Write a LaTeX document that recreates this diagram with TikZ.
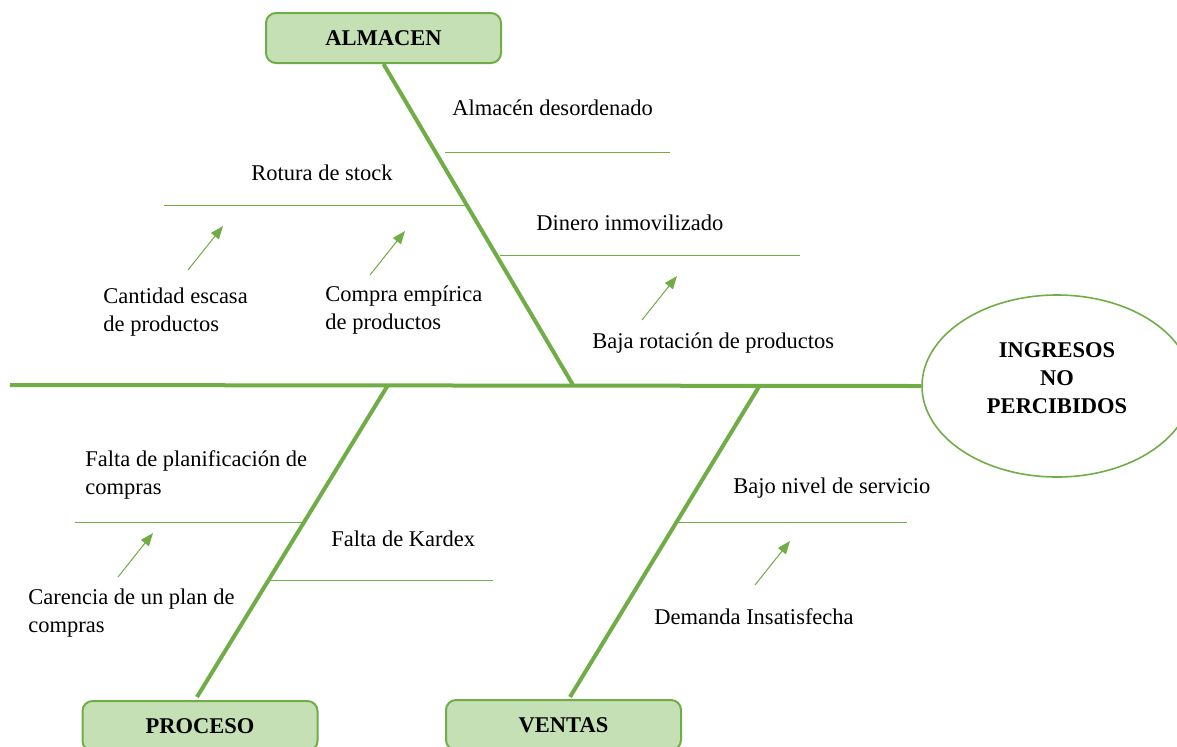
\documentclass[tikz,border=0pt]{standalone}
\usepackage{fontspec}
\setmainfont{Liberation Serif}
\usetikzlibrary{shapes.geometric,arrows.meta}
\definecolor{verde}{HTML}{70AD47}
\definecolor{verdeclaro}{HTML}{C5E0B4}
\tikzset{
  categoria/.style={draw=verde, fill=verdeclaro, line width=1pt, rounded corners=5pt,
    minimum width=117.5pt, minimum height=25pt, font=\bfseries},
  efecto/.style={draw=verde, ellipse, line width=.8pt, minimum width=135pt,
    minimum height=91pt},
  hueso/.style={draw=verde, line width=2pt},
  subhueso/.style={draw=verde, line width=.5pt},
  flecha/.style={draw=verde, fill=verde, line width=.5pt, -{Triangle[length=6.5pt,width=5pt]}},
  causa/.style={anchor=west, inner sep=0pt, align=left}
}
\begin{document}
\fontsize{11.25pt}{14pt}\selectfont
\begin{tikzpicture}[x=0.5pt, y=-0.5pt]
                \useasboundingbox (0,0) rectangle (1177,746);
                \node[categoria] (almacen) at (383.5,38) {ALMACEN};
                \node[categoria] (proceso) at (200,726) {PROCESO};
                \node[categoria] (ventas) at (563.5,725) {VENTAS};
                \node[efecto] (ingresos) at (1057,386) {};
                \node[align=center, font=\bfseries] (ingresostexto) at (1057,378) {INGRESOS\\NO\\PERCIBIDOS};
                % espina central y huesos
                \coordinate (cola) at (10,385);
                \coordinate (a) at (573,385);
                \coordinate (p) at (388,385);
                \coordinate (v) at (760,385);
                \coordinate (pfin) at (197,697);
                \coordinate (vfin) at (570,697);
                \draw[hueso] (cola) -- (ingresos.west);
                \draw[hueso] (almacen.south) -- (a);
                \draw[hueso] (p) -- (pfin);
                \draw[hueso] (v) -- (vfin);
                % causas
                \node[causa] (desordenado) at (452,108) {Almacén desordenado};
                \node[causa] (rotura) at (251,173) {Rotura de stock};
                \node[causa] (dinero) at (536,223) {Dinero inmovilizado};
                \node[causa] (escasa) at (103,312) {Cantidad escasa\\de productos};
                \node[causa] (empirica) at (325,310) {Compra empírica\\de productos};
                \node[causa] (rotacion) at (592,343) {Baja rotación de productos};
                \node[causa] (planificacion) at (85,475) {Falta de planificación de\\compras};
                \node[causa] (kardex) at (331,539) {Falta de Kardex};
                \node[causa] (carencia) at (28,613) {Carencia de un plan de\\compras};
                \node[causa] (servicio) at (733,488) {Bajo nivel de servicio};
                \node[causa] (demanda) at (654,617) {Demanda Insatisfecha};
                % lineas de las causas
                \foreach \n/\xa/\xb/\y in {d/445/670/152, r/164/468/205, i/500/800/255,
                  f/75/302/522, k/270/493/580, b/678/907/522}{
                  \coordinate (\n1) at (\xa,\y);
                  \coordinate (\n2) at (\xb,\y);
                  \draw[subhueso] (\n1) -- (\n2);
                }
                % flechas
                \foreach \n/\x/\y in {e/188/270, c/370/275, o/642/320, l/118/577, m/755/585}{
                  \coordinate (\n1) at (\x,\y);
                  \coordinate (\n2) at (\x+35,\y-44);
                  \draw[flecha] (\n1) -- (\n2);
                }
\end{tikzpicture}
\end{document}
